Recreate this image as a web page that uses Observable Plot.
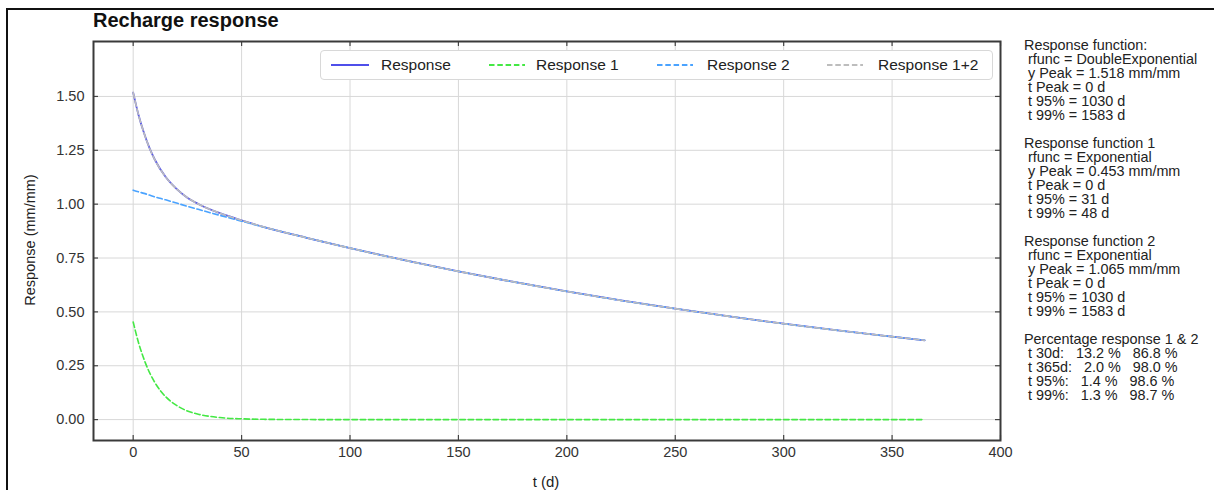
<!DOCTYPE html>
<html>
<head>
<meta charset="utf-8">
<script src="https://cdn.jsdelivr.net/npm/d3@7"></script>
<script src="https://cdn.jsdelivr.net/npm/@observablehq/plot@0.6"></script>
<style>
  html, body { margin: 0; padding: 0; background: #fff; }
  body { font-family: "Liberation Sans", Arial, sans-serif; }
  #wrap { position: relative; width: 1214px; height: 490px; overflow: hidden; }
  #border { position: absolute; left: 6px; top: 8px; right: -4px; bottom: -4px; border-top: 2px solid #111; border-left: 2px solid #111; }
  #title { position: absolute; left: 93px; top: 9px; font-size: 20px; font-weight: bold; color: #111; }
  #ylabel { position: absolute; left: 30px; top: 240px; transform: translate(-50%, -50%) rotate(-90deg); font-size: 14.5px; color: #222; white-space: nowrap; }
  #xlabel { position: absolute; left: 546px; top: 481px; transform: translate(-50%, -50%); font-size: 15px; color: #222; }
  #legend { position: absolute; left: 320px; top: 50px; width: 673px; height: 30px; border: 1px solid #d8d8d8; border-radius: 4px; background: #fff; box-sizing: border-box; }
  .ll { position: absolute; top: 11px; }
  .lt { position: absolute; top: 4px; font-size: 15.5px; color: #222; white-space: nowrap; line-height: 20px; }
  #info { position: absolute; left: 1024px; top: 38px; font-size: 14.4px; line-height: 14px; color: #222; white-space: pre; }
  #chart { position: absolute; left: 0; top: 0; }
</style>
</head>
<body>
<div id="wrap">
  <div id="chart"></div>
  <div id="border"></div>
  <div id="title">Recharge response</div>
  <div id="ylabel">Response (mm/mm)</div>
  <div id="xlabel">t (d)</div>
  <div id="legend"></div>
  <div id="info"></div>
</div>
<script>
// ---- data ----
const t          = [0, 2.5, 5, 7.5, 10, 15, 20, 25, 30, 40, 50, 60, 80, 100, 125, 150, 175, 200, 225, 250, 275, 300, 325, 350, 365];
const response   = [1.518, 1.413, 1.330, 1.261, 1.206, 1.126, 1.071, 1.030, 1.001, 0.958, 0.925, 0.895, 0.844, 0.796, 0.740, 0.688, 0.640, 0.595, 0.553, 0.515, 0.479, 0.445, 0.414, 0.385, 0.368];
const response1  = [0.453, 0.356, 0.280, 0.219, 0.172, 0.106, 0.066, 0.040, 0.025, 0.0095, 0.0036, 0.0014, 0.0002, 0, 0, 0, 0, 0, 0, 0, 0, 0, 0, 0, 0];
const response2  = [1.065, 1.057, 1.050, 1.042, 1.034, 1.020, 1.005, 0.990, 0.976, 0.948, 0.921, 0.894, 0.844, 0.796, 0.740, 0.688, 0.640, 0.595, 0.553, 0.515, 0.479, 0.445, 0.414, 0.385, 0.368];
const response12 = [1.518, 1.413, 1.330, 1.261, 1.206, 1.126, 1.071, 1.030, 1.001, 0.958, 0.925, 0.895, 0.844, 0.796, 0.740, 0.688, 0.640, 0.595, 0.553, 0.515, 0.479, 0.445, 0.414, 0.385, 0.368];

const seriesNames = ["Response", "Response 1", "Response 2", "Response 1+2"];
const xTicks = [0, 50, 100, 150, 200, 250, 300, 350, 400];
const yTicks = [0, 0.25, 0.5, 0.75, 1.0, 1.25, 1.5];
const yTickLabels = ["0.00", "0.25", "0.50", "0.75", "1.00", "1.25", "1.50"];

const infoLines = [
  "Response function:",
  " rfunc = DoubleExponential",
  " y Peak = 1.518 mm/mm",
  " t Peak = 0 d",
  " t 95% = 1030 d",
  " t 99% = 1583 d",
  "",
  "Response function 1",
  " rfunc = Exponential",
  " y Peak = 0.453 mm/mm",
  " t Peak = 0 d",
  " t 95% = 31 d",
  " t 99% = 48 d",
  "",
  "Response function 2",
  " rfunc = Exponential",
  " y Peak = 1.065 mm/mm",
  " t Peak = 0 d",
  " t 95% = 1030 d",
  " t 99% = 1583 d",
  "",
  "Percentage response 1 & 2",
  " t 30d:   13.2 %   86.8 %",
  " t 365d:   2.0 %   98.0 %",
  " t 95%:   1.4 %   98.6 %",
  " t 99%:   1.3 %   98.7 %"
];

// ---- styles ----
const styles = {
  "Response":     {stroke: "#4f4fea", strokeWidth: 1.8, dash: null},
  "Response 1":   {stroke: "#44e844", strokeWidth: 1.6, dash: "5.5,2.8"},
  "Response 2":   {stroke: "#4aa3ff", strokeWidth: 1.6, dash: "5.5,2.8"},
  "Response 1+2": {stroke: "#bdbdbd", strokeWidth: 1.6, dash: "5.5,2.8"}
};

const valuesBySeries = {
  "Response": response, "Response 1": response1, "Response 2": response2, "Response 1+2": response12
};
const table = seriesNames.flatMap(s => t.map((tt, i) => ({t: tt, v: valuesBySeries[s][i], series: s})));

const W = 1214, H = 490;
const mT = 41, mB = 50, mL = 93, mR = 214;
const plotH = H - mT - mB, plotW = W - mL - mR;

const lineMarks = seriesNames.map(s => Plot.line(table.filter(d => d.series === s), {
  x: "t", y: "v", curve: "monotone-x",
  stroke: styles[s].stroke, strokeWidth: styles[s].strokeWidth,
  strokeDasharray: styles[s].dash, strokeOpacity: s === "Response" ? 0.95 : 1
}));

const chart = Plot.plot({
  width: W, height: H,
  marginTop: mT, marginBottom: mB, marginLeft: mL, marginRight: mR,
  style: {fontFamily: "'Liberation Sans', Arial, sans-serif", background: "transparent"},
  x: {domain: [-18.3, 400]},
  y: {domain: [-0.097, 1.755]},
  marks: [
    Plot.gridX(xTicks, {stroke: "#d8d8d8", strokeOpacity: 1, strokeWidth: 1}),
    Plot.gridY(yTicks, {stroke: "#d8d8d8", strokeOpacity: 1, strokeWidth: 1}),
    ...lineMarks,
    Plot.tickX(xTicks, {x: d => d, insetTop: plotH - 5, stroke: "#444", strokeWidth: 1.2}),
    Plot.tickX(xTicks, {x: d => d, insetBottom: plotH - 5, stroke: "#444", strokeWidth: 1.2}),
    Plot.tickY(yTicks, {y: d => d, insetRight: plotW - 5, stroke: "#444", strokeWidth: 1.2}),
    Plot.tickY(yTicks, {y: d => d, insetLeft: plotW - 5, stroke: "#444", strokeWidth: 1.2}),
    Plot.frame({stroke: "#3a3a3a", strokeWidth: 2}),
    Plot.axisX(xTicks, {tickSize: 0, tickPadding: 6, fontSize: 14.5, fill: "#333", label: null}),
    Plot.axisY(yTicks, {tickSize: 0, tickPadding: 9, fontSize: 14.5, fill: "#333", label: null,
      tickFormat: d => yTickLabels[yTicks.indexOf(d)]})
  ]
});
document.getElementById("chart").appendChild(chart);

// ---- legend (positions relative to the legend box) ----
const legendLine = [{x: 10, len: 38}, {x: 168, len: 36}, {x: 336, len: 36}, {x: 506, len: 36}];
const legendText = [60, 215, 386, 557];
const legend = document.getElementById("legend");
seriesNames.forEach((s, i) => {
  const st = styles[s];
  const ln = document.createElement("div");
  ln.className = "ll";
  ln.style.left = legendLine[i].x + "px";
  ln.innerHTML = `<svg width="${legendLine[i].len}" height="6" style="display:block"><line x1="0" y1="3" x2="${legendLine[i].len}" y2="3" stroke="${st.stroke}" stroke-width="${st.strokeWidth + 0.2}" ${st.dash ? `stroke-dasharray="${st.dash}"` : ""}/></svg>`;
  legend.appendChild(ln);
  const tx = document.createElement("div");
  tx.className = "lt";
  tx.style.left = legendText[i] + "px";
  tx.textContent = s;
  legend.appendChild(tx);
});

// ---- info panel ----
document.getElementById("info").textContent = infoLines.join("\n");
</script>
</body>
</html>
